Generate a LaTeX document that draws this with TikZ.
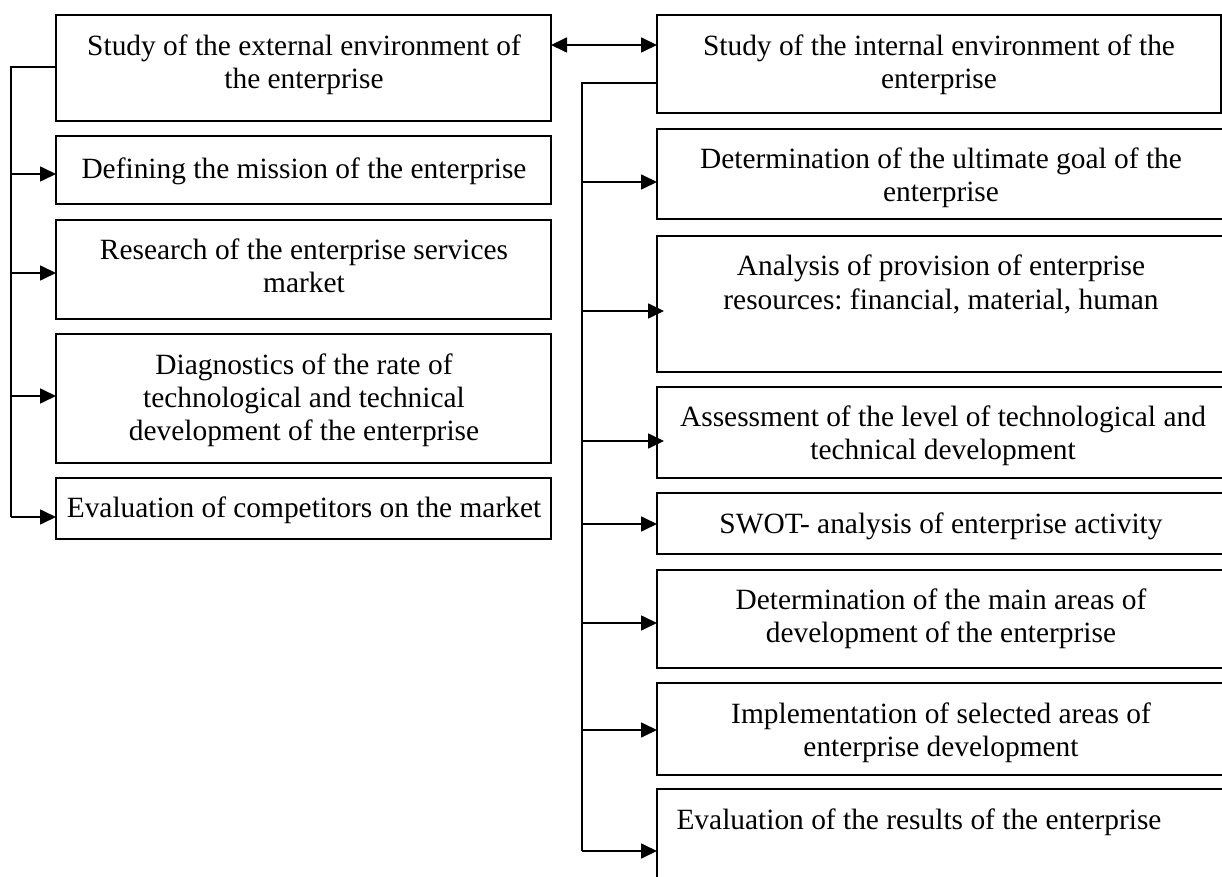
\documentclass[tikz,border=0pt]{standalone}
\usepackage{fontspec}
\setmainfont{Liberation Serif}
\usetikzlibrary{arrows.meta}
\frenchspacing
\begin{document}
\begin{tikzpicture}[x=0.5pt,y=-0.5pt,
  boxst/.style={draw=black, line width=0.95pt, rectangle, inner sep=0pt, outer sep=0pt},
  txt/.style={align=center, inner sep=0pt, yshift=-1.5pt, font=\fontsize{14.7pt}{16.6pt}\selectfont},
  conn/.style={line width=0.85pt},
  arr/.style={line width=0.85pt, -{Triangle[length=8pt,width=7.5pt]}},
  darr/.style={line width=0.85pt, {Triangle[length=8pt,width=7.5pt]}-{Triangle[length=8pt,width=7.5pt]}}]
\useasboundingbox (0,0) rectangle (1222,877);
\newcommand{\pbox}[5]{\node[boxst, minimum width={(#4-#2)*0.5pt}, minimum height={(#5-#3)*0.5pt}] (#1) at ({(#2+#4)/2},{(#3+#5)/2}) {};}
% left column
\pbox{L1}{56}{15}{551}{121}
\pbox{L2}{56}{136}{551}{204}
\pbox{L3}{56}{220}{551}{319}
\pbox{L4}{56}{334}{551}{463}
\pbox{L5}{56}{478}{551}{539}
\node[txt] (tL1) at (304,61.5) {Study of the external environment of\\the enterprise};
\node[txt] (tL2) at (304,168) {Defining the mission of the enterprise};
\node[txt] (tL3) at (304,263) {Research of the enterprise services\\market};
\node[txt] (tL4) at (304,397) {Diagnostics of the rate of\\technological and technical\\development of the enterprise};
\node[txt] (tL5) at (304,507) {Evaluation of competitors on the market};
% right column
\pbox{R1}{657}{15}{1221}{113}
\pbox{R2}{657}{129}{1228}{219}
\pbox{R3}{657}{236}{1228}{372}
\pbox{R4}{657}{387}{1228}{478}
\pbox{R5}{657}{493}{1228}{554}
\pbox{R6}{657}{570}{1228}{668}
\pbox{R7}{657}{683}{1228}{775}
\pbox{R8}{657}{789}{1228}{900}
\node[txt] (tR1) at (939,61.5) {Study of the internal environment of the\\enterprise};
\node[txt] (tR2) at (941,175) {Determination of the ultimate goal of the\\enterprise};
\node[txt] (tR3) at (941,281.5) {Analysis of provision of enterprise\\resources: financial, material, human};
\node[txt] (tR4) at (943,432.5) {Assessment of the level of technological and\\technical development};
\node[txt] (tR5) at (941,523) {SWOT- analysis of enterprise activity};
\node[txt] (tR6) at (941,615.5) {Determination of the main areas of\\development of the enterprise};
\node[txt] (tR7) at (941,729.5) {Implementation of selected areas of\\enterprise development};
\node[txt] (tR8) at (919,819) {Evaluation of the results of the enterprise};
% connectors
\draw[darr] (L1.east |- 0,45) -- (R1.west |- 0,45);
\coordinate (LT) at (11,67);
\coordinate (LB) at (11,517);
\draw[conn] (L1.west |- LT) -- (LT) -- (LB);
\draw[arr] (LT |- 0,174) -- (L2.west |- 0,174);
\draw[arr] (LT |- 0,273) -- (L3.west |- 0,273);
\draw[arr] (LT |- 0,396) -- (L4.west |- 0,396);
\draw[arr] (LB) -- (L5.west |- LB);
\coordinate (RT) at (582,83);
\coordinate (RB) at (582,851);
\draw[conn] (R1.west |- RT) -- (RT) -- (RB);
\draw[arr] (RT |- 0,182) -- (R2.west |- 0,182);
\draw[arr, shorten >=-3.5pt] (RT |- 0,311) -- (R3.west |- 0,311);
\draw[arr, shorten >=-3.5pt] (RT |- 0,441) -- (R4.west |- 0,441);
\draw[arr] (RT |- 0,524) -- (R5.west |- 0,524);
\draw[arr] (RT |- 0,623) -- (R6.west |- 0,623);
\draw[arr] (RT |- 0,730) -- (R7.west |- 0,730);
\draw[arr] (RB) -- (R8.west |- RB);
\end{tikzpicture}
\end{document}
